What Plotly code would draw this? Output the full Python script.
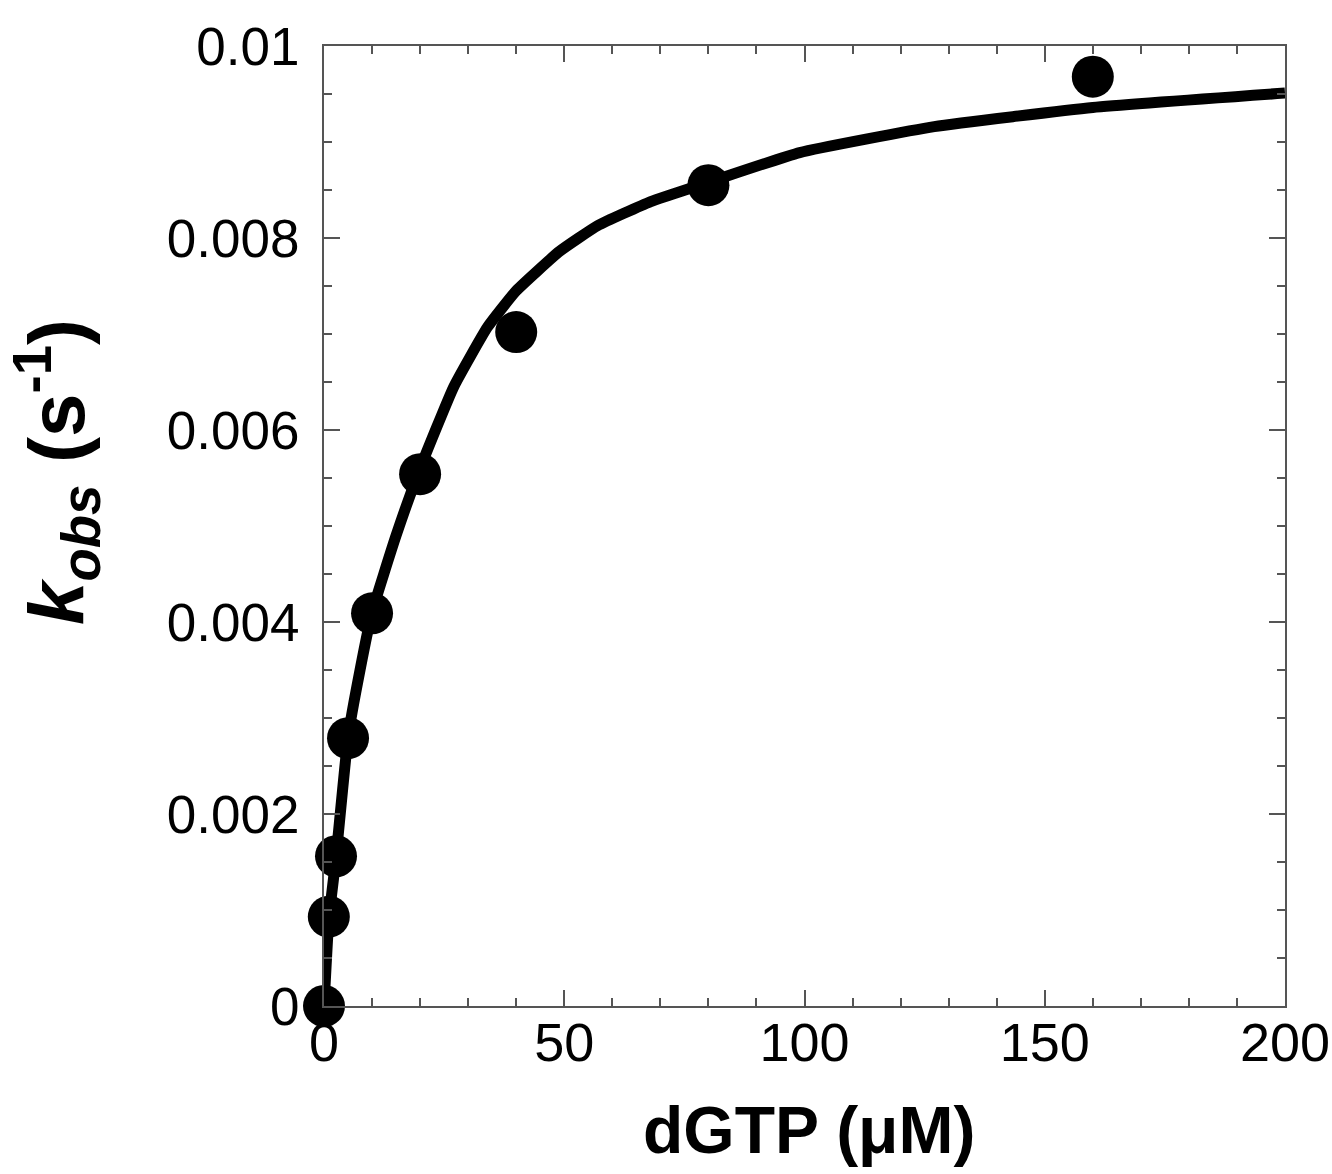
import plotly.graph_objects as go

# Observed data points
dgtp_uM = [0, 1, 2.5, 5, 10, 20, 40, 80, 160]
kobs = [0.0, 0.00093, 0.00156, 0.00279, 0.00409, 0.00554, 0.00702, 0.00855, 0.00968]

# Fitted curve
fit_x = [0, 1, 2.5, 5, 7.5, 10, 15, 20, 27, 34, 40, 49, 57, 68, 80, 99, 127, 160, 200]
fit_y = [0.0, 0.0009, 0.00155, 0.0028, 0.0035, 0.0041, 0.0049, 0.0056, 0.00645, 0.00707,
         0.00745, 0.00786, 0.00813, 0.00838, 0.00858, 0.00889, 0.00916, 0.00936, 0.00951]

x_ticks = [0, 50, 100, 150, 200]
x_ticklabels = ["0", "50", "100", "150", "200"]
y_ticks = [0, 0.002, 0.004, 0.006, 0.008, 0.01]
y_ticklabels = ["0", "0.002", "0.004", "0.006", "0.008", "0.01"]

axis_grey = "#555555"
font_fam = "Liberation Sans, Arial, sans-serif"

fig = go.Figure()
fig.add_trace(go.Scatter(x=fit_x, y=fit_y, mode="lines",
                         line=dict(color="black", width=11, shape="spline", smoothing=0.4),
                         showlegend=False, hoverinfo="skip", cliponaxis=True))
fig.add_trace(go.Scatter(x=dgtp_uM, y=kobs, mode="markers",
                         marker=dict(color="black", size=42, line=dict(width=0)),
                         showlegend=False, cliponaxis=False))

fig.update_layout(
    width=1332, height=1174,
    margin=dict(l=324, r=47, t=46, b=168, autoexpand=False),
    paper_bgcolor="white", plot_bgcolor="white",
    font=dict(family=font_fam, color="black"),
)

fig.update_xaxes(
    range=[0, 200], tickvals=x_ticks, ticktext=x_ticklabels,
    ticks="inside", ticklen=16, tickwidth=1.5, tickcolor=axis_grey,
    showline=True, linecolor=axis_grey, linewidth=2, mirror="ticks",
    showgrid=False, zeroline=False, automargin=False,
    tickfont=dict(family=font_fam, size=54, color="black"),
    ticklabelstandoff=-12, ticklabeloverflow="allow",
    minor=dict(dtick=10, tick0=0, ticks="inside", ticklen=8, tickwidth=1.5, tickcolor=axis_grey, showgrid=False),
)
fig.update_yaxes(
    range=[0, 0.01], tickvals=y_ticks, ticktext=y_ticklabels,
    ticks="inside", ticklen=16, tickwidth=1.5, tickcolor=axis_grey,
    showline=True, linecolor=axis_grey, linewidth=2, mirror="ticks",
    showgrid=False, zeroline=False, automargin=False,
    tickfont=dict(family=font_fam, size=53, color="black"),
    ticklabelstandoff=12, ticklabeloverflow="allow",
    minor=dict(dtick=0.0005, tick0=0, ticks="inside", ticklen=8, tickwidth=1.5, tickcolor=axis_grey, showgrid=False),
)

fig.add_annotation(
    text="<b>dGTP (μM)</b>", xref="paper", yref="paper",
    x=(809 - 324) / 961, y=(1006 - 1130) / 960, xanchor="center", yanchor="middle",
    showarrow=False,
    font=dict(family=font_fam, size=66, color="black"),
)
fig.add_annotation(
    text="<b><i>k</i><sub><i>obs</i></sub> (s<sup>-1</sup>)</b>", xref="paper", yref="paper",
    x=(57 - 324) / 961, y=(1006 - 472) / 960, xanchor="center", yanchor="middle",
    textangle=-90, showarrow=False,
    font=dict(family=font_fam, size=78, color="black"),
)

fig.write_html("out.html")
